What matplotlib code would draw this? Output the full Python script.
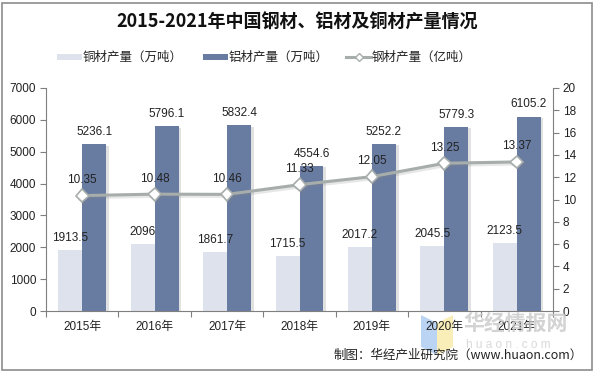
import matplotlib
matplotlib.use("Agg")
import matplotlib.pyplot as plt
import matplotlib.patheffects as pe
from matplotlib.patches import Rectangle, Polygon
import numpy as np

plt.rcParams['font.family'] = ['Liberation Sans', 'Noto Sans CJK SC', 'DejaVu Sans']

years = ["2015年", "2016年", "2017年", "2018年", "2019年", "2020年", "2021年"]
copper = [1913.5, 2096, 1861.7, 1715.5, 2017.2, 2045.5, 2123.5]
aluminum = [5236.1, 5796.1, 5832.4, 4554.6, 5252.2, 5779.3, 6105.2]
steel = [10.35, 10.48, 10.46, 11.33, 12.05, 13.25, 13.37]
copper_labels = ["1913.5", "2096", "1861.7", "1715.5", "2017.2", "2045.5", "2123.5"]
aluminum_labels = ["5236.1", "5796.1", "5832.4", "4554.6", "5252.2", "5779.3", "6105.2"]
steel_labels = ["10.35", "10.48", "10.46", "11.33", "12.05", "13.25", "13.37"]

W, H = 595, 373
fig = plt.figure(figsize=(W / 100, H / 100), dpi=100)
fig.patch.set_facecolor("white")

# border
fig.add_artist(Rectangle((2 / W, 3 / H), 590 / W, 367 / H, transform=fig.transFigure,
                         fill=False, edgecolor="#8c8c8c", linewidth=1.2))

ax = fig.add_axes([46 / W, 62 / H, (553 - 46) / W, (311 - 88) / H])
ax2 = ax.twinx()

c_light = "#DDE2EC"
c_dark = "#687BA0"
c_line = "#A6ADAA"

x = np.arange(len(years))
bw = 0.33
shadow = [pe.SimplePatchShadow(offset=(2, -1), shadow_rgbFace="#777777", alpha=0.22), pe.Normal()]
b1 = ax.bar(x - bw / 2, copper, bw, color=c_light, zorder=2)
b2 = ax.bar(x + bw / 2, aluminum, bw, color=c_dark, zorder=2)
for b in list(b1) + list(b2):
    b.set_path_effects(shadow)

for i in range(len(years)):
    ax.text(x[i] - bw / 2, copper[i] + 190, copper_labels[i], ha="center", va="bottom",
            fontsize=8.5, color="#222222", zorder=5)
    ax.text(x[i] + bw / 2, aluminum[i] + 190, aluminum_labels[i], ha="center", va="bottom",
            fontsize=8.5, color="#222222", zorder=5)

ax.set_xlim(-0.5, len(years) - 0.5)
ax.set_ylim(0, 7000)
ax.set_yticks(np.arange(0, 7001, 1000))
ax2.set_ylim(0, 20)
ax2.set_yticks(np.arange(0, 21, 2))

line_shadow = [pe.SimpleLineShadow(offset=(1.5, -1.5), shadow_color="#888888", alpha=0.2), pe.Normal()]
ax2.plot(x, steel, color=c_line, linewidth=2.2, marker="D", markersize=6.5,
         markerfacecolor="white", markeredgecolor=c_line, markeredgewidth=1.2,
         zorder=4, path_effects=line_shadow)
for i in range(len(years)):
    ax2.text(x[i], steel[i] + 0.85, steel_labels[i], ha="center", va="bottom",
             fontsize=8.5, color="#222222", zorder=5)

ax.set_zorder(1)
ax2.set_zorder(2)
ax2.patch.set_visible(False)

for a in (ax, ax2):
    a.spines["top"].set_visible(False)
    for s in a.spines.values():
        s.set_color("#7f7f7f")
        s.set_linewidth(0.8)
ax.spines["right"].set_visible(False)
ax2.spines["left"].set_visible(False)
ax2.spines["bottom"].set_visible(False)

ax.set_xticks(np.arange(-0.5, len(years) + 0.5, 1))
ax.set_xticklabels([])
ax.set_xticks(x, minor=True)
ax.set_xticklabels(years, minor=True)
ax.tick_params(axis="x", which="major", length=4, color="#7f7f7f", direction="out")
ax.tick_params(axis="x", which="minor", length=0, labelsize=8.5, pad=7, labelcolor="#222222")
ax.tick_params(axis="y", length=4, color="#7f7f7f", labelsize=8.5, labelcolor="#222222", pad=3)
ax2.tick_params(axis="y", length=4, color="#7f7f7f", labelsize=8.5, labelcolor="#222222", pad=3)

# title
fig.text(0.5, 1 - 22 / H, "2015-2021年中国钢材、铝材及铜材产量情况", ha="center", va="center",
         fontsize=13, fontweight="bold", family=["Noto Sans CJK SC"], color="#111111")

# legend
ly = 1 - 57 / H
fig.add_artist(Rectangle((57 / W, ly - 3 / H), 25 / W, 6 / H, transform=fig.transFigure,
                         facecolor=c_light, edgecolor="none"))
fig.text(83 / W, ly, "铜材产量（万吨）", ha="left", va="center", fontsize=9,
         family=["Noto Sans CJK SC"], color="#222222")
fig.add_artist(Rectangle((203 / W, ly - 3 / H), 25 / W, 6 / H, transform=fig.transFigure,
                         facecolor=c_dark, edgecolor="none"))
fig.text(229 / W, ly, "铝材产量（万吨）", ha="left", va="center", fontsize=9,
         family=["Noto Sans CJK SC"], color="#222222")
fig.add_artist(plt.Line2D([346 / W, 371 / W], [ly, ly], transform=fig.transFigure,
                          color=c_line, linewidth=2.2))
fig.add_artist(plt.Line2D([358.5 / W], [ly], transform=fig.transFigure, color=c_line,
                          marker="D", markersize=4, markerfacecolor="white",
                          markeredgecolor=c_line, linestyle="none"))
fig.text(372 / W, ly, "钢材产量（亿吨）", ha="left", va="center", fontsize=9,
         family=["Noto Sans CJK SC"], color="#222222")

# watermark
fig.add_artist(Polygon([(421 / W, 1 - 315 / H), (437 / W, 1 - 323 / H), (437 / W, 1 - 355 / H),
                        (421 / W, 1 - 347 / H)], closed=True, transform=fig.transFigure,
                       facecolor="#9ec3f0", edgecolor="none", alpha=0.7))
fig.add_artist(Polygon([(437 / W, 1 - 323 / H), (453 / W, 1 - 315 / H), (453 / W, 1 - 347 / H),
                        (437 / W, 1 - 355 / H)], closed=True, transform=fig.transFigure,
                       facecolor="#f8e79a", edgecolor="none", alpha=0.7))
fig.text(463 / W, 1 - 323 / H, "华经情报网", ha="left", va="center", fontsize=15,
         fontweight="bold", family=["Noto Sans CJK SC"], color="#c8c8c8", alpha=0.8)
fig.text(466 / W, 1 - 345 / H, "h u a o n . c o m", ha="left", va="center", fontsize=8.5,
         color="#d0d0d0", alpha=0.8)

# source
fig.text(583 / W, 1 - 355 / H, "制图：华经产业研究院（www.huaon.com）", ha="right", va="center",
         fontsize=9, family=["Noto Sans CJK SC", "DejaVu Sans"], color="#222222")

fig.savefig("out.png", dpi=100)
